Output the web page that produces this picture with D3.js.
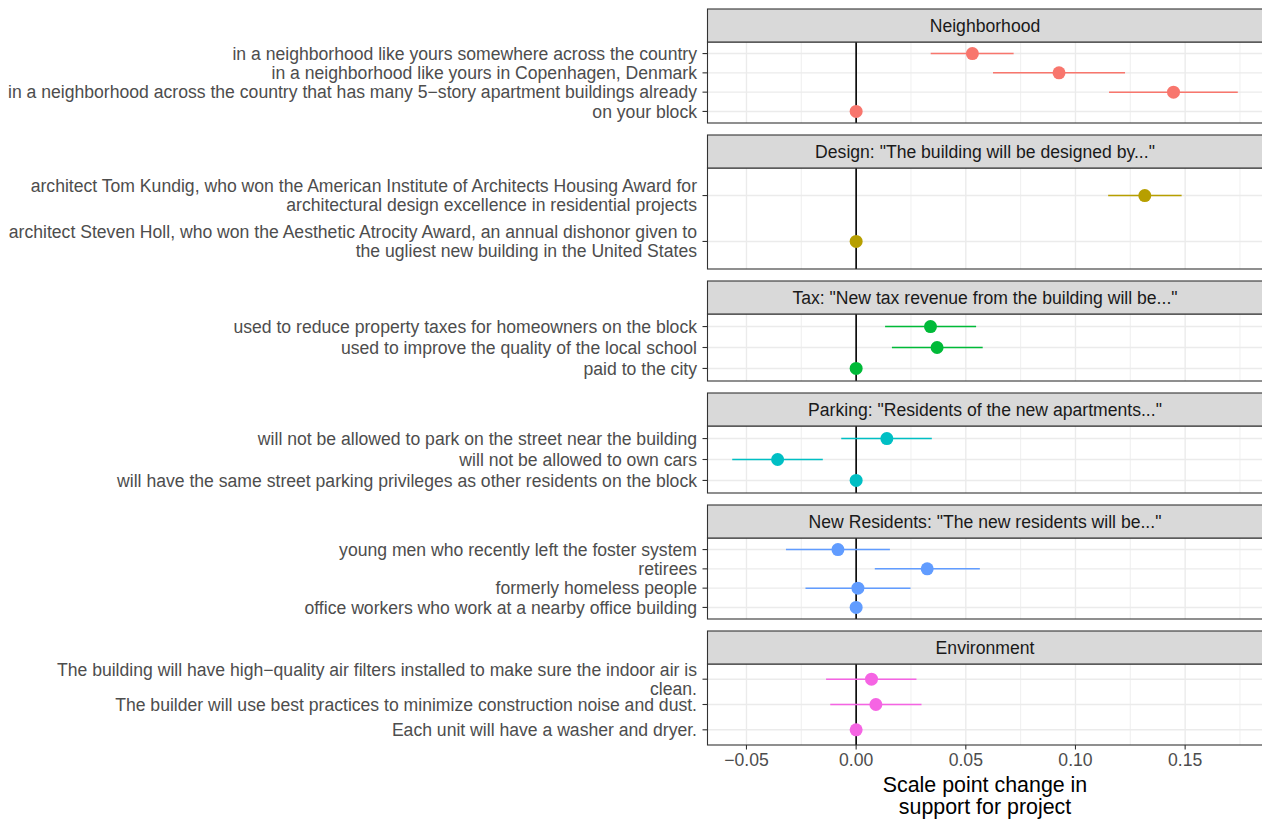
<!DOCTYPE html>
<html>
<head>
<meta charset="utf-8">
<script src="https://cdn.jsdelivr.net/npm/d3@7"></script>
<style>
  html, body { margin: 0; padding: 0; background: #ffffff; }
  svg { display: block; }
  text { font-family: "Liberation Sans", Arial, Helvetica, sans-serif; }
</style>
</head>
<body>
<svg id="chart" width="1262" height="821"></svg>
<script>
// ---- Data: effect of each attribute level on support (scale points), with 95% CIs ----
const facetTitles = [
  "Neighborhood",
  "Design: \"The building will be designed by...\"",
  "Tax: \"New tax revenue from the building will be...\"",
  "Parking: \"Residents of the new apartments...\"",
  "New Residents: \"The new residents will be...\"",
  "Environment"
];

const neighborhoodLevels = [
  "in a neighborhood like yours somewhere across the country",
  "in a neighborhood like yours in Copenhagen, Denmark",
  "in a neighborhood across the country that has many 5\u2212story apartment buildings already",
  "on your block"
];
const neighborhoodEst = [0.053, 0.0925, 0.1447, 0];
const neighborhoodLo  = [0.034, 0.0624, 0.1153, 0];
const neighborhoodHi  = [0.0718, 0.1226, 0.174, 0];

const designLevels = [
  "architect Tom Kundig, who won the American Institute of Architects Housing Award for\narchitectural design excellence in residential projects",
  "architect Steven Holl, who won the Aesthetic Atrocity Award, an annual dishonor given to\nthe ugliest new building in the United States"
];
const designEst = [0.1316, 0];
const designLo  = [0.1149, 0];
const designHi  = [0.1484, 0];

const taxLevels = [
  "used to reduce property taxes for homeowners on the block",
  "used to improve the quality of the local school",
  "paid to the city"
];
const taxEst = [0.0339, 0.0369, 0];
const taxLo  = [0.0132, 0.0163, 0];
const taxHi  = [0.0547, 0.0577, 0];

const parkingLevels = [
  "will not be allowed to park on the street near the building",
  "will not be allowed to own cars",
  "will have the same street parking privileges as other residents on the block"
];
const parkingEst = [0.014, -0.0358, 0];
const parkingLo  = [-0.0068, -0.0565, 0];
const parkingHi  = [0.0345, -0.0152, 0];

const residentLevels = [
  "young men who recently left the foster system",
  "retirees",
  "formerly homeless people",
  "office workers who work at a nearby office building"
];
const residentEst = [-0.0083, 0.0324, 0.0008, 0];
const residentLo  = [-0.032, 0.0085, -0.0231, 0];
const residentHi  = [0.0154, 0.0564, 0.0248, 0];

const environmentLevels = [
  "The building will have high\u2212quality air filters installed to make sure the indoor air is\nclean.",
  "The builder will use best practices to minimize construction noise and dust.",
  "Each unit will have a washer and dryer."
];
const environmentEst = [0.007, 0.009, 0];
const environmentLo  = [-0.0137, -0.0118, 0];
const environmentHi  = [0.0275, 0.0298, 0];

const xTickValues = [-0.05, 0, 0.05, 0.10, 0.15];
const xMinorValues = [-0.025, 0.025, 0.075, 0.125, 0.175];
const xDomain = [-0.068, 0.1855];
const xTitleLines = ["Scale point change in", "support for project"];

const facetColors = ["#F8766D", "#B79F00", "#00BA38", "#00BFC4", "#619CFF", "#F564E3"];

const facets = [
  [neighborhoodLevels, neighborhoodEst, neighborhoodLo, neighborhoodHi],
  [designLevels, designEst, designLo, designHi],
  [taxLevels, taxEst, taxLo, taxHi],
  [parkingLevels, parkingEst, parkingLo, parkingHi],
  [residentLevels, residentEst, residentLo, residentHi],
  [environmentLevels, environmentEst, environmentLo, environmentHi]
].map(([levels, est, lo, hi], i) => ({
  title: facetTitles[i],
  color: facetColors[i],
  rows: levels.map((lab, j) => ({ label: lab, est: est[j], lo: lo[j], hi: hi[j] }))
}));

// ---- Layout ----
const panelLeft = 707, panelRight = 1263;
const topMargin = 9, stripH = 33, panelGap = 12;
const bodyHeights = [81, 101, 67, 67, 81, 81];
const smallFont = 17.6, titleFont = 21.4, lineStep = 19;

const svg = d3.select("#chart");
const x = d3.scaleLinear().domain(xDomain).range([panelLeft, panelRight]);
const midX = (panelLeft + Math.min(panelRight, 1262)) / 2 + 0.5;

let yCursor = topMargin;
facets.forEach((f, i) => {
  const stripTop = yCursor;
  const bodyTop = stripTop + stripH;
  const bodyBottom = bodyTop + bodyHeights[i];
  yCursor = bodyBottom + panelGap;

  const y = d3.scalePoint()
    .domain(f.rows.map(r => r.label))
    .range([bodyTop, bodyBottom])
    .padding(0.6);

  const g = svg.append("g");

  // panel background + grid
  g.append("rect").attr("x", panelLeft).attr("y", bodyTop)
    .attr("width", panelRight - panelLeft).attr("height", bodyBottom - bodyTop)
    .attr("fill", "#ffffff");

  g.selectAll("line.minor").data(xMinorValues.filter(v => x(v) > panelLeft && x(v) < panelRight))
    .join("line").attr("class", "minor")
    .attr("x1", d => x(d)).attr("x2", d => x(d))
    .attr("y1", bodyTop).attr("y2", bodyBottom)
    .attr("stroke", "#EBEBEB").attr("stroke-width", 0.8);

  g.selectAll("line.majx").data(xTickValues)
    .join("line").attr("class", "majx")
    .attr("x1", d => x(d)).attr("x2", d => x(d))
    .attr("y1", bodyTop).attr("y2", bodyBottom)
    .attr("stroke", "#EBEBEB").attr("stroke-width", 1.4);

  g.selectAll("line.majy").data(f.rows)
    .join("line").attr("class", "majy")
    .attr("x1", panelLeft).attr("x2", panelRight)
    .attr("y1", d => y(d.label)).attr("y2", d => y(d.label))
    .attr("stroke", "#EBEBEB").attr("stroke-width", 1.4);

  // reference line at zero
  g.append("line")
    .attr("x1", x(0)).attr("x2", x(0))
    .attr("y1", bodyTop).attr("y2", bodyBottom)
    .attr("stroke", "#000000").attr("stroke-width", 1.6);

  // confidence intervals
  g.selectAll("line.ci").data(f.rows.filter(r => r.hi > r.lo))
    .join("line").attr("class", "ci")
    .attr("x1", d => x(d.lo)).attr("x2", d => x(d.hi))
    .attr("y1", d => y(d.label)).attr("y2", d => y(d.label))
    .attr("stroke", f.color).attr("stroke-width", 1.5);

  // point estimates
  g.selectAll("circle").data(f.rows)
    .join("circle")
    .attr("cx", d => x(d.est)).attr("cy", d => y(d.label))
    .attr("r", 6.5).attr("fill", f.color);

  // panel border
  g.append("rect").attr("x", panelLeft + 0.5).attr("y", bodyTop)
    .attr("width", panelRight - panelLeft).attr("height", bodyBottom - bodyTop)
    .attr("fill", "none").attr("stroke", "#333333").attr("stroke-width", 1.1);

  // strip
  g.append("rect").attr("x", panelLeft + 0.5).attr("y", stripTop)
    .attr("width", panelRight - panelLeft).attr("height", stripH)
    .attr("fill", "#D9D9D9").attr("stroke", "#333333").attr("stroke-width", 1.1);
  g.append("text")
    .attr("x", midX).attr("y", stripTop + stripH / 2 + smallFont * 0.35)
    .attr("text-anchor", "middle").attr("font-size", smallFont)
    .attr("fill", "#1A1A1A").text(f.title);

  // y axis ticks + labels
  g.selectAll("line.ytick").data(f.rows)
    .join("line").attr("class", "ytick")
    .attr("x1", panelLeft - 4.5).attr("x2", panelLeft)
    .attr("y1", d => y(d.label)).attr("y2", d => y(d.label))
    .attr("stroke", "#333333").attr("stroke-width", 1.1);

  f.rows.forEach(r => {
    const lines = r.label.split("\n");
    const t = g.append("text")
      .attr("text-anchor", "end").attr("font-size", smallFont)
      .attr("fill", "#4D4D4D");
    lines.forEach((ln, k) => {
      t.append("tspan")
        .attr("x", panelLeft - 10)
        .attr("y", y(r.label) + (k - (lines.length - 1) / 2) * lineStep + smallFont * 0.35)
        .text(ln);
    });
  });

  // x axis on the last panel
  if (i === facets.length - 1) {
    const fmt = d3.format(".2f");
    g.selectAll("line.xtick").data(xTickValues)
      .join("line").attr("class", "xtick")
      .attr("x1", d => x(d)).attr("x2", d => x(d))
      .attr("y1", bodyBottom).attr("y2", bodyBottom + 4.5)
      .attr("stroke", "#333333").attr("stroke-width", 1.1);
    g.selectAll("text.xlab").data(xTickValues)
      .join("text").attr("class", "xlab")
      .attr("x", d => x(d)).attr("y", bodyBottom + 21)
      .attr("text-anchor", "middle").attr("font-size", smallFont)
      .attr("fill", "#4D4D4D")
      .text(d => fmt(d).replace("-", "\u2212"));
    xTitleLines.forEach((ln, k) => {
      g.append("text")
        .attr("x", midX).attr("y", bodyBottom + 47 + k * 22)
        .attr("text-anchor", "middle").attr("font-size", titleFont)
        .attr("fill", "#000000").text(ln);
    });
  }
});
</script>
</body>
</html>
